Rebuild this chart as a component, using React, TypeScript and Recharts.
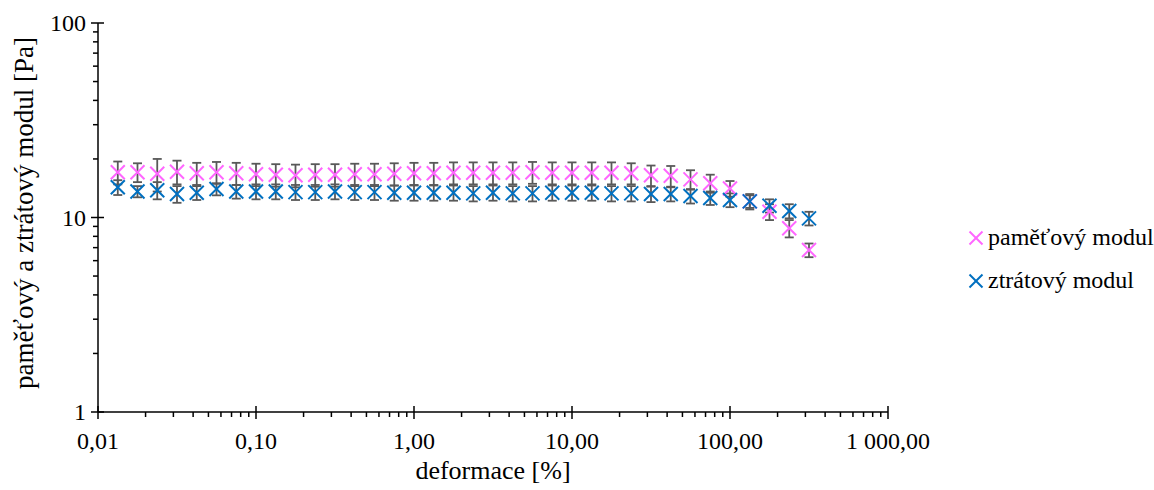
import React from 'react';
import { ScatterChart, Scatter, XAxis, YAxis, ErrorBar } from 'recharts';

// deformace [%] - 8 points per decade
const strain = [
  0.01334, 0.01778, 0.02371, 0.03162, 0.04217, 0.05623, 0.07499, 0.1,
  0.1334, 0.1778, 0.2371, 0.3162, 0.4217, 0.5623, 0.7499, 1,
  1.334, 1.778, 2.371, 3.162, 4.217, 5.623, 7.499, 10,
  13.34, 17.78, 23.71, 31.62, 42.17, 56.23, 74.99, 100,
  133.4, 177.8, 237.1, 316.2,
];

// paměťový modul [Pa]
const storageModulus = [
  17.1, 17.1, 16.8, 17.2, 16.9, 17.1, 16.9, 16.7,
  16.6, 16.5, 16.6, 16.6, 16.7, 16.7, 16.8, 16.9,
  16.9, 17.0, 17.0, 17.0, 17.0, 17.1, 17.0, 17.0,
  17.0, 17.0, 16.9, 16.5, 16.4, 15.7, 15.0, 14.1,
  12.1, 10.7, 8.8, 6.8,
];
const storageError = [
  2.3, 1.9, 3.2, 2.4, 2.2, 2.2, 2.2, 2.2,
  2.2, 2.2, 2.2, 2.2, 2.2, 2.2, 2.2, 2.2,
  2.2, 2.2, 2.2, 2.2, 2.2, 2.2, 2.2, 2.2,
  2.2, 2.2, 2.1, 2.0, 2.0, 1.8, 1.6, 1.3,
  1.1, 1.0, 0.9, 0.55,
];

// ztrátový modul [Pa]
const lossModulus = [
  14.3, 13.6, 13.8, 13.2, 13.4, 14.0, 13.6, 13.6,
  13.6, 13.5, 13.5, 13.6, 13.5, 13.5, 13.4, 13.4,
  13.4, 13.4, 13.3, 13.4, 13.3, 13.3, 13.4, 13.4,
  13.4, 13.3, 13.3, 13.2, 13.2, 12.9, 12.6, 12.3,
  12.1, 11.5, 10.8, 9.9,
];
const lossError = [
  1.25, 0.9, 1.4, 1.3, 1.1, 1.0, 1.1, 1.2,
  1.2, 1.2, 1.2, 1.2, 1.2, 1.2, 1.2, 1.2,
  1.2, 1.2, 1.2, 1.2, 1.2, 1.2, 1.2, 1.2,
  1.2, 1.2, 1.2, 1.2, 1.1, 1.1, 1.0, 1.0,
  0.9, 0.9, 0.9, 0.8,
];

const seriesNames = ['paměťový modul', 'ztrátový modul'];
const seriesColors = ['#FF66FF', '#0070C0'];

const xMajorTicks = [0.01, 0.1, 1, 10, 100, 1000];
const xTickLabels = ['0,01', '0,10', '1,00', '10,00', '100,00', '1 000,00'];
const yMajorTicks = [1, 10, 100];
const yTickLabels = ['1', '10', '100'];
const minorSteps = [2, 3, 4, 5, 6, 7, 8, 9];

const xAxisTitle = 'deformace [%]';
const yAxisTitle = 'paměťový a ztrátový modul [Pa]';

const FONT = '"Liberation Serif", "Times New Roman", serif';
const ERR_COLOR = '#595959';

const withMinors = (majors: number[]) => [
  ...majors,
  ...majors.slice(0, -1).flatMap((m) => minorSteps.map((s) => m * s)),
];
const xTicks = withMinors(xMajorTicks);
const yTicks = withMinors(yMajorTicks);

const storageData = strain.map((x, i) => ({ x, y: storageModulus[i], err: storageError[i] }));
const lossData = strain.map((x, i) => ({ x, y: lossModulus[i], err: lossError[i] }));

const XMark = ({ cx, cy, color, r = 7 }: any) => (
  <g>
    <line x1={cx - r} y1={cy - r} x2={cx + r} y2={cy + r} stroke={color} strokeWidth={2} />
    <line x1={cx - r} y1={cy + r} x2={cx + r} y2={cy - r} stroke={color} strokeWidth={2} />
  </g>
);

const XTick = ({ x, y, payload }: any) => {
  const idx = xMajorTicks.indexOf(payload.value);
  if (idx < 0) {
    return <line x1={x} y1={y} x2={x} y2={y + 5} stroke="#000" strokeWidth={1.5} />;
  }
  return (
    <g>
      <line x1={x} y1={y - 6} x2={x} y2={y + 7} stroke="#000" strokeWidth={1.5} />
      <text x={x} y={y + 37} textAnchor="middle" fontSize={24} fontFamily={FONT} fill="#000">
        {xTickLabels[idx]}
      </text>
    </g>
  );
};

const YTick = ({ x, y, payload }: any) => {
  const idx = yMajorTicks.indexOf(payload.value);
  if (idx < 0) {
    return <line x1={x - 5} y1={y} x2={x} y2={y} stroke="#000" strokeWidth={1.5} />;
  }
  return (
    <g>
      <line x1={x - 7} y1={y} x2={x + 6} y2={y} stroke="#000" strokeWidth={1.5} />
      <text x={x - 12} y={y + 8} textAnchor="end" fontSize={24} fontFamily={FONT} fill="#000">
        {yTickLabels[idx]}
      </text>
    </g>
  );
};

export default function App() {
  return (
    <div style={{ position: 'absolute', left: 0, top: 0, width: 1154, height: 490, background: '#fff' }}>
      <ScatterChart width={1154} height={490} margin={{ top: 23, right: 266, bottom: 48, left: 0 }}>
        <XAxis
          dataKey="x"
          type="number"
          scale="log"
          domain={[0.01, 1000]}
          allowDataOverflow
          ticks={xTicks}
          interval={0}
          tick={<XTick />}
          tickLine={false}
          tickSize={0}
          tickMargin={0}
          height={30}
          axisLine={{ stroke: '#000', strokeWidth: 1.5 }}
          label={{
            content: () => (
              <text x={493} y={479} textAnchor="middle" fontSize={26} fontFamily={FONT} fill="#000">
                {xAxisTitle}
              </text>
            ),
          }}
        />
        <YAxis
          dataKey="y"
          type="number"
          scale="log"
          domain={[1, 100]}
          allowDataOverflow
          ticks={yTicks}
          interval={0}
          tick={<YTick />}
          tickLine={false}
          tickSize={0}
          tickMargin={0}
          width={98}
          axisLine={{ stroke: '#000', strokeWidth: 1.5 }}
          label={{
            content: () => (
              <text
                x={33}
                y={213}
                transform="rotate(-90 33 213)"
                textAnchor="middle"
                fontSize={27}
                fontFamily={FONT}
                fill="#000"
              >
                {yAxisTitle}
              </text>
            ),
          }}
        />
        <Scatter
          name={seriesNames[0]}
          data={storageData}
          isAnimationActive={false}
          shape={(p: any) => <XMark cx={p.cx} cy={p.cy} color={seriesColors[0]} />}
        >
          <ErrorBar dataKey="err" direction="y" width={4.5} stroke={ERR_COLOR} strokeWidth={1.8} isAnimationActive={false} />
        </Scatter>
        <Scatter
          name={seriesNames[1]}
          data={lossData}
          isAnimationActive={false}
          shape={(p: any) => <XMark cx={p.cx} cy={p.cy} color={seriesColors[1]} />}
        >
          <ErrorBar dataKey="err" direction="y" width={4.5} stroke={ERR_COLOR} strokeWidth={1.8} isAnimationActive={false} />
        </Scatter>
      </ScatterChart>
      <svg
        width={200}
        height={90}
        style={{ position: 'absolute', left: 960, top: 220, overflow: 'visible' }}
      >
        {seriesNames.map((name, i) => (
          <g key={name} transform={`translate(0, ${i * 43})`}>
            <XMark cx={16} cy={18} r={6.5} color={seriesColors[i]} />
            <text x={28} y={25} fontSize={24} fontFamily={FONT} fill="#000">
              {name}
            </text>
          </g>
        ))}
      </svg>
    </div>
  );
}
